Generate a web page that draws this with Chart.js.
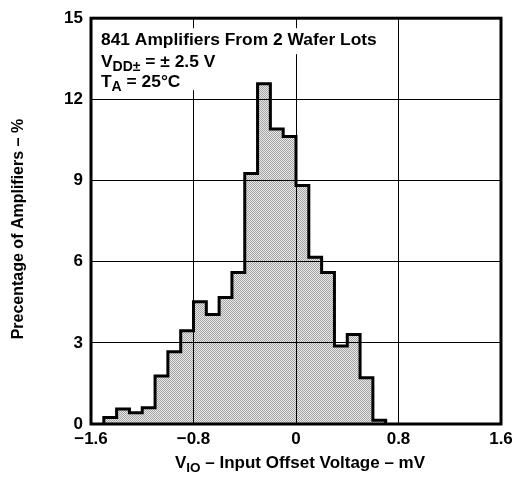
<!DOCTYPE html>
<html><head><meta charset="utf-8">
<script src="https://cdn.jsdelivr.net/npm/chart.js@4.4.0/dist/chart.umd.min.js"></script>
<style>html,body{margin:0;padding:0;background:#fff}canvas{display:block}</style>
</head><body>
<canvas id="c" width="526" height="479"></canvas>
<script>
// ---- data ----
const binEdges = [-1.5,-1.4,-1.3,-1.2,-1.1,-1.0,-0.9,-0.8,-0.7,-0.6,-0.5,-0.4,-0.3,-0.2,-0.1,0,0.1,0.2,0.3,0.4,0.5,0.6,0.7];
const percentages = [0.24,0.55,0.42,0.6,1.77,2.67,3.45,4.52,4.05,4.68,5.6,9.26,12.58,10.9,10.63,8.82,6.16,5.6,2.88,3.31,1.71,0.14];
const xTickValues = [-1.6,-0.8,0,0.8,1.6];
const yTickValues = [0,3,6,9,12,15];
const annotationLines = [
  [{t:'841 Amplifiers From 2 Wafer Lots'}],
  [{t:'V'},{t:'DD\u00B1',sub:true},{t:' = \u00B1 2.5 V'}],
  [{t:'T'},{t:'A',sub:true},{t:' = 25\u00B0C'}]
];
const xTitlePieces = [{t:'V'},{t:'IO',sub:true},{t:' \u2013 Input Offset Voltage \u2013 mV'}];
const yTitleText = 'Precentage of Amplifiers \u2013 %';

const FONT = '"Liberation Sans", Arial, Helvetica, sans-serif';
const canvas = document.getElementById('c');
const ctx0 = canvas.getContext('2d');

function makePattern(){
  const p = document.createElement('canvas'); p.width = 2; p.height = 2;
  const g = p.getContext('2d');
  g.fillStyle = '#e8e8e8'; g.fillRect(0,0,2,2);
  g.fillStyle = '#a4a4a4'; g.fillRect(0,0,1,1); g.fillRect(1,1,1,1);
  return ctx0.createPattern(p,'repeat');
}

const points = [{x: binEdges[0], y: 0}];
percentages.forEach((v,i) => points.push({x: binEdges[i], y: v}));
points.push({x: binEdges[binEdges.length-1], y: 0});

function fmtX(v){
  if (Math.abs(v) < 1e-9) return '0';
  const s = Math.abs(v).toFixed(1);
  return v < 0 ? '\u2212' + s : s;
}
function fmtY(v){ return String(Math.round(v)); }

function richWidth(ctx, pieces, size, subSize){
  let w = 0;
  pieces.forEach(p => { ctx.font = 'bold ' + (p.sub ? subSize : size) + 'px ' + FONT; w += ctx.measureText(p.t).width; });
  return w;
}
function drawRich(ctx, x, y, pieces, size, subSize, subDy){
  ctx.textBaseline = 'alphabetic'; ctx.textAlign = 'left'; ctx.fillStyle = '#000';
  pieces.forEach(p => {
    ctx.font = 'bold ' + (p.sub ? subSize : size) + 'px ' + FONT;
    ctx.fillText(p.t, x, y + (p.sub ? subDy : 0));
    x += ctx.measureText(p.t).width;
  });
}

const decor = {
  id: 'decor',
  afterDraw(chart){
    const ctx = chart.ctx, a = chart.chartArea;
    ctx.save();
    // annotation with white background
    const size = 17.4, sub = 14;
    const w1 = richWidth(ctx, annotationLines[0], size, sub);
    const w2 = Math.max(richWidth(ctx, annotationLines[1], size, sub), richWidth(ctx, annotationLines[2], size, sub));
    ctx.fillStyle = '#fff';
    ctx.fillRect(a.left + 2, a.top + 10, w1 + 16, 26);
    ctx.fillRect(a.left + 2, a.top + 36, w2 + 14, 36);
    drawRich(ctx, a.left + 10, a.top + 27, annotationLines[0], size, sub, 4);
    drawRich(ctx, a.left + 10, a.top + 49, annotationLines[1], size, sub, 4);
    drawRich(ctx, a.left + 10, a.top + 69, annotationLines[2], size, sub, 4);
    // frame
    ctx.strokeStyle = '#000'; ctx.lineWidth = 3;
    ctx.strokeRect(a.left, a.top, a.right - a.left, a.bottom - a.top);
    // x title
    const ts = 17, tsub = 13.5;
    const wt = richWidth(ctx, xTitlePieces, ts, tsub);
    drawRich(ctx, (a.left + a.right) / 2 + 4 - wt / 2, 468, xTitlePieces, ts, tsub, 4);
    // y title
    ctx.translate(19, (a.top + a.bottom) / 2 + 8);
    ctx.rotate(-Math.PI / 2);
    ctx.font = 'bold 16px ' + FONT;
    ctx.textAlign = 'center'; ctx.textBaseline = 'middle'; ctx.fillStyle = '#000';
    ctx.fillText(yTitleText, 0, 0);
    ctx.restore();
  }
};

new Chart(canvas, {
  type: 'line',
  data: {
    datasets: [{
      data: points,
      stepped: true,
      fill: 'origin',
      backgroundColor: makePattern(),
      borderColor: '#000',
      borderWidth: 3,
      borderJoinStyle: 'miter',
      pointRadius: 0,
      pointHoverRadius: 0,
      tension: 0
    }]
  },
  options: {
    responsive: false,
    animation: false,
    devicePixelRatio: 1,
    events: [],
    layout: { autoPadding: false, padding: { left: 0, right: 25, top: 8, bottom: 0 } },
    plugins: { legend: { display: false }, tooltip: { enabled: false } },
    scales: {
      x: {
        type: 'linear', min: -1.6, max: 1.6,
        afterBuildTicks: s => { s.ticks = xTickValues.map(v => ({ value: v })); },
        afterFit: s => { s.height = 55; },
        grid: { color: '#000', lineWidth: 1, drawTicks: false, z: 1 },
        border: { display: false },
        ticks: { color: '#000', padding: 5, maxRotation: 0, autoSkip: false,
          font: { family: FONT, size: 17, weight: 'bold' }, callback: v => fmtX(v) }
      },
      y: {
        type: 'linear', min: 0, max: 15,
        afterBuildTicks: s => { s.ticks = yTickValues.map(v => ({ value: v })); },
        afterFit: s => { s.width = 91; },
        grid: { color: '#000', lineWidth: 1, drawTicks: false, z: 1 },
        border: { display: false },
        ticks: { color: '#000', padding: 8, autoSkip: false,
          font: { family: FONT, size: 17, weight: 'bold' }, callback: v => fmtY(v) }
      }
    }
  },
  plugins: [decor]
});
</script>
</body></html>
